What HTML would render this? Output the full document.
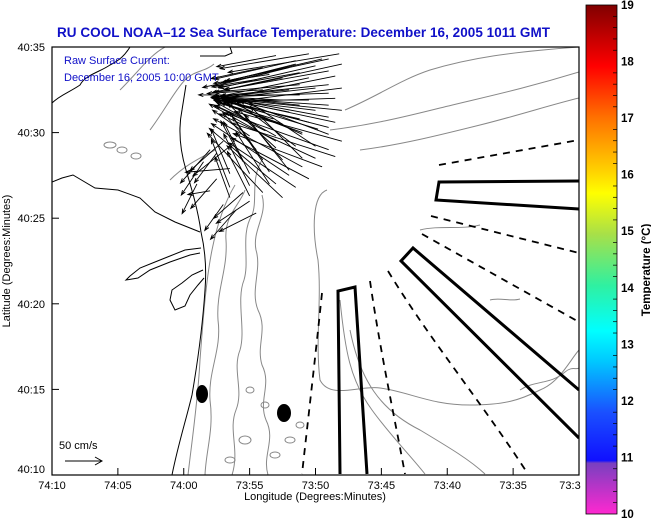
<!DOCTYPE html>
<html><head><meta charset="utf-8"><style>
html,body{margin:0;padding:0;background:#fff;}
svg{display:block;font-family:"Liberation Sans",sans-serif;}
</style></head><body>
<svg id="chart" width="651" height="519" viewBox="0 0 651 519" xmlns="http://www.w3.org/2000/svg">
<defs>
<linearGradient id="cbar" x1="0" y1="1" x2="0" y2="0">
<stop offset="0" stop-color="#ff28d0"/>
<stop offset="0.1" stop-color="#7840c0"/>
<stop offset="0.105" stop-color="#1010ff"/>
<stop offset="0.2" stop-color="#1a50ff"/>
<stop offset="0.3" stop-color="#00c8ff"/>
<stop offset="0.36" stop-color="#00ffff"/>
<stop offset="0.45" stop-color="#30f0a0"/>
<stop offset="0.55" stop-color="#a8e048"/>
<stop offset="0.63" stop-color="#ffff00"/>
<stop offset="0.68" stop-color="#ffcc00"/>
<stop offset="0.78" stop-color="#ff7000"/>
<stop offset="0.88" stop-color="#ff0000"/>
<stop offset="1" stop-color="#800000"/>
</linearGradient>
<clipPath id="plotclip"><rect x="52" y="47" width="527" height="428"/></clipPath>
</defs>
<text x="57" y="37" font-size="13.5" font-weight="bold" fill="#1010c8" textLength="493">RU COOL  NOAA–12  Sea Surface Temperature:  December 16, 2005 1011 GMT</text>
<g id="plot" clip-path="url(#plotclip)"></g>
<rect x="52" y="47" width="527" height="428" fill="none" stroke="#000" stroke-width="1.2"/>
<text x="64" y="64" font-size="11" fill="#1010c8">Raw Surface Current:</text>
<text x="64" y="81" font-size="11" fill="#1010c8">December 16, 2005 10:00 GMT</text>
<g id="axes"></g>
<text x="315" y="500" font-size="11" text-anchor="middle">Longitude (Degrees:Minutes)</text>
<text transform="translate(10,261) rotate(-90)" font-size="11" text-anchor="middle">Latitude (Degrees:Minutes)</text>
<g>
<text x="59" y="449" font-size="11">50 cm/s</text>
<line x1="65" y1="461" x2="102" y2="461" stroke="#000"/>
<path d="M95,457 L102,461 L95,465" fill="none" stroke="#000"/>
</g>
<rect x="586" y="5" width="31" height="509" fill="url(#cbar)" stroke="#000" stroke-width="0.8"/>
<g id="cbticks"></g>
<text transform="translate(650,270) rotate(-90)" font-size="11.5" font-weight="bold" text-anchor="middle">Temperature (°C)</text>
</svg>
<script>
const lonTicks = ["74:10","74:05","74:00","73:55","73:50","73:45","73:40","73:35","73:3"];
const latTicks = ["40:10","40:15","40:20","40:25","40:30","40:35"];
const cbTicks = [10,11,12,13,14,15,16,17,18,19];
// current vectors: tail position (minutes east of 74:10, minutes north of 40:00), u,v in cm/s
const vecLonA = [21.8,19.5,17,22,20,18,16,21.5,19.5,17.5,15.5,22,20,18,16,21.5,19.5,17.5,15.5,22,20,18,16,21.5,19.5,17.5,15.5,21,19,17,15,20,18.5,17,15.5,19,17.5,16,14.5,18,16.5,15,13.5,16.5,15,13.5,15,13.5,13,12,11.5,12.5,11,13.5,12,20.5,18.5,16.5,14.5,21,19,17];
const vecLatA = [34.6,34.6,34.5,34.0,33.9,33.8,33.8,33.3,33.2,33.2,33.1,32.6,32.6,32.5,32.5,32.0,31.9,31.9,31.8,31.3,31.3,31.2,31.2,30.6,30.6,30.5,30.5,29.9,29.9,29.8,29.8,29.2,29.2,29.1,29.0,28.5,28.4,28.4,28.3,27.8,27.7,27.6,27.6,27.0,26.9,26.8,26.3,26.2,29.5,29.0,28.3,27.3,27.0,27.9,26.6,34.3,34.2,33.5,32.2,30.3,30.0,29.5];
const vecUA = [-150,-120,-80,-160,-130,-100,-70,-150,-120,-95,-60,-160,-135,-100,-75,-150,-125,-95,-60,-150,-125,-100,-70,-140,-115,-90,-55,-120,-100,-80,-50,-90,-80,-65,-45,-70,-60,-45,-30,-60,-50,-35,-25,-45,-35,-25,-30,-20,-45,-40,-30,-35,-20,-60,-30,-130,-110,-90,-60,-135,-110,-90];
const vecVA = [-25,-20,-15,-35,-30,-25,-15,-30,-25,-20,-10,-20,-15,-10,-5,-5,0,5,5,15,15,20,20,30,30,30,25,45,45,45,35,60,60,60,50,70,70,65,55,75,75,70,60,70,70,65,60,55,-40,-45,-45,-40,-40,-5,-5,-30,-25,-20,0,35,40,50];
const vecLonB = [21,20,19,18,17,16,20.5,19.5,18.5,17.5,22,21.5,21,18.5,21,18.8,16.5,21,18.8,21,18.8,21,18.8,21,18.8,16.8,20.2,18.2,16.2,14.5,15,14,13,15.5,12.5,13.5];
const vecLatB = [29.0,28.5,28.0,27.5,27.0,26.5,28.0,27.3,26.8,26.2,29.5,28.6,34.3,34.0,33.6,33.5,33.4,32.8,32.8,32.3,32.2,31.6,31.6,30.9,30.8,30.8,30.2,30.2,30.1,26.5,26.0,25.5,25.8,25.3,28.8,29.2];
const vecUB = [-140,-130,-120,-105,-90,-75,-120,-105,-90,-75,-145,-140,-140,-100,-140,-110,-75,-145,-115,-145,-115,-145,-115,-135,-110,-80,-125,-100,-70,-40,-45,-35,-25,-50,-30,-50];
const vecVB = [50,60,65,70,75,80,45,55,60,70,40,45,-30,-25,-25,-20,-12,-15,-10,-5,0,10,12,25,25,25,38,38,35,-35,-30,-40,-35,-25,-40,-40];
const vecLon = vecLonA.concat(vecLonB);
const vecLat = vecLatA.concat(vecLatB);
const vecU = vecUA.concat(vecUB);
const vecV = vecVA.concat(vecVB);

const X0=52, X1=579, Y0=475, Y1=47;
const xOfMin = m => X0 + m*(X1-X0)/40;
const yOfMin = l => Y0 - l*(Y0-Y1)/25;
const yOfLat = l => yOfMin(l-10);
const pxPerCm = 37/50;
const NS="http://www.w3.org/2000/svg";
function mk(tag, attrs, parent){const e=document.createElementNS(NS,tag);for(const k in attrs)e.setAttribute(k,attrs[k]);parent.appendChild(e);return e;}
const plot=document.getElementById('plot');
const axes=document.getElementById('axes');

const grayPaths=[
"M188,475 C192,440 198,400 200,360 C203,320 206,280 212,250 C218,220 226,200 235,185",
"M205,475 C206,450 214,430 210,400 C208,370 222,350 218,320 C216,290 228,270 226,240 C224,215 240,205 245,190",
"M232,475 C240,450 228,430 236,410 C244,390 232,370 240,350 C246,330 236,300 244,280 C250,260 240,235 252,215 C258,200 250,180 262,160",
"M268,475 C262,455 276,440 266,420 C258,400 272,385 262,365 C256,345 268,330 258,310 C250,290 262,270 256,250 C252,230 268,215 262,195",
"M327,190 C312,195 312,230 318,260 C322,300 315,340 320,380 C330,400 360,385 380,388 C410,392 430,405 470,405 C505,405 520,400 540,390 C560,382 570,360 579,350",
"M340,300 C345,350 350,380 372,410 C390,435 410,455 425,474",
"M350,330 C360,380 380,410 420,430 C450,448 470,460 485,474",
"M345,110 C380,95 400,80 430,70 C470,58 510,52 579,47",
"M330,130 C370,125 400,118 440,108 C480,98 520,90 579,72",
"M360,150 C400,145 440,135 480,125 C520,115 550,105 579,98",
"M120,90 C140,70 150,55 165,47",
"M150,130 C165,110 175,90 185,80 C195,70 205,72 214,64",
"M170,180 C185,165 200,158 215,150",
"M420,230 C440,225 460,230 480,225",
"M490,300 C500,297 510,302 520,299",
"M520,390 C535,380 550,385 565,372 C572,366 576,370 579,368"];
grayPaths.forEach((d,i)=>{const p=mk('path',{d:d,fill:'none',stroke:'#888','stroke-width':1},plot);

});
[[110,145,6,3],[122,150,5,3],[136,156,5,3],[250,390,4,3],[265,405,4,3],[290,440,5,3],[245,440,6,4],[275,455,5,3],[300,425,4,3],[230,460,5,3]].forEach(b=>{
const e=mk('ellipse',{cx:b[0],cy:b[1],rx:b[2],ry:b[3],fill:'none',stroke:'#888'},plot);

});

const coast=[
"M172,475 C178,445 186,420 192,395 C198,360 203,320 205,290 C207,265 204,245 201,232",
"M52,182 L62,178 L73,175 L95,188 L118,190 L140,198 L155,212 L175,222 L200,232",
"M201,232 C198,210 192,190 186,170 C180,150 178,130 182,110 L186,85",
"M201,248 L185,250 L170,256 L155,262 L140,268 L130,276 L126,280 L138,278 L150,270 L170,262 L190,255 L200,253",
"M203,270 L192,275 L182,283 L172,290 L170,300 L175,310 L185,306 L190,295 L198,285 L204,278",
"M52,103 C60,95 70,92 80,85 C85,75 100,72 110,65 C120,60 125,55 130,47",
"M202,47 L230,47 L232,53 L225,56 L200,56"];
coast.forEach(d=>{const p=mk('path',{d:d,fill:'none',stroke:'#000','stroke-width':1},plot);

});

const lanes=["M340,474 L338,291 L355,287 L367,474","M579,181 L439,182 L436,200 L579,209","M579,390 L413,248 L401,261 L579,438"];
lanes.forEach(d=>{const p=mk('path',{d:d,fill:'none',stroke:'#000','stroke-width':3},plot);

});
const dashes=["M439,165 L579,140","M431,216 L579,253","M422,234 L579,322","M388,271 C430,340 480,400 528,474","M370,281 C380,350 395,420 405,474","M322,293 C315,360 308,420 302,474"];
dashes.forEach(d=>{const p=mk('path',{d:d,fill:'none',stroke:'#000','stroke-width':1.8,'stroke-dasharray':'7,6'},plot);

});
[[202,394,6,9],[284,413,7,9]].forEach(b=>{const e=mk('ellipse',{cx:b[0],cy:b[1],rx:b[2],ry:b[3],fill:'#000'},plot);

});

for(let i=0;i<vecLon.length;i++){
  const x=xOfMin(vecLon[i]), y=yOfLat(vecLat[i]);
  const dx=vecU[i]*pxPerCm, dy=-vecV[i]*pxPerCm;
  const x2=x+dx, y2=y+dy, L=Math.hypot(dx,dy)||1;
  const ux=dx/L, uy=dy/L, h=5;
  const ax=x2-h*(ux*0.94-uy*0.34), ay=y2-h*(uy*0.94+ux*0.34);
  const bx=x2-h*(ux*0.94+uy*0.34), by=y2-h*(uy*0.94-ux*0.34);
  const p=mk('path',{d:`M${x},${y} L${x2},${y2} M${ax},${ay} L${x2},${y2} L${bx},${by}`,fill:'none',stroke:'#000','stroke-width':0.9},plot);
  
  
}

lonTicks.forEach((t,i)=>{const x=xOfMin(i*5);
 const l=mk('line',{x1:x,y1:475,x2:x,y2:468,stroke:'#000'},axes);
 
 
 const tx=mk('text',{x:i==lonTicks.length-1?x-9:x,y:489,'font-size':11,'text-anchor':'middle'},axes);
 
 
 tx.textContent=t;});
latTicks.forEach((t,i)=>{const y=yOfMin(i*5);
 const l=mk('line',{x1:52,y1:y,x2:59,y2:y,stroke:'#000'},axes);
 
 
 const tx=mk('text',{x:45,y:i==0?y-2:y+4,'font-size':11,'text-anchor':'end'},axes);
 
 
 tx.textContent=t;});
const cbt=document.getElementById('cbticks');
const cbY=v=>514-(v-10)*509/9;
for(let k=0;k<=45;k++){const v=10+k*0.2,y=cbY(v);const len=(k%5==0)?0:4;
 if(len){const l=mk('line',{x1:617-len,y1:y,x2:617,y2:y,stroke:'#000','stroke-width':0.7},cbt);
 
 }}
cbTicks.forEach(v=>{const y=cbY(v);
 const tx=mk('text',{x:621,y:y+4,'font-size':11.5,'font-weight':'bold'},cbt);
 
 
 tx.textContent=v;});
</script>
</body></html>
